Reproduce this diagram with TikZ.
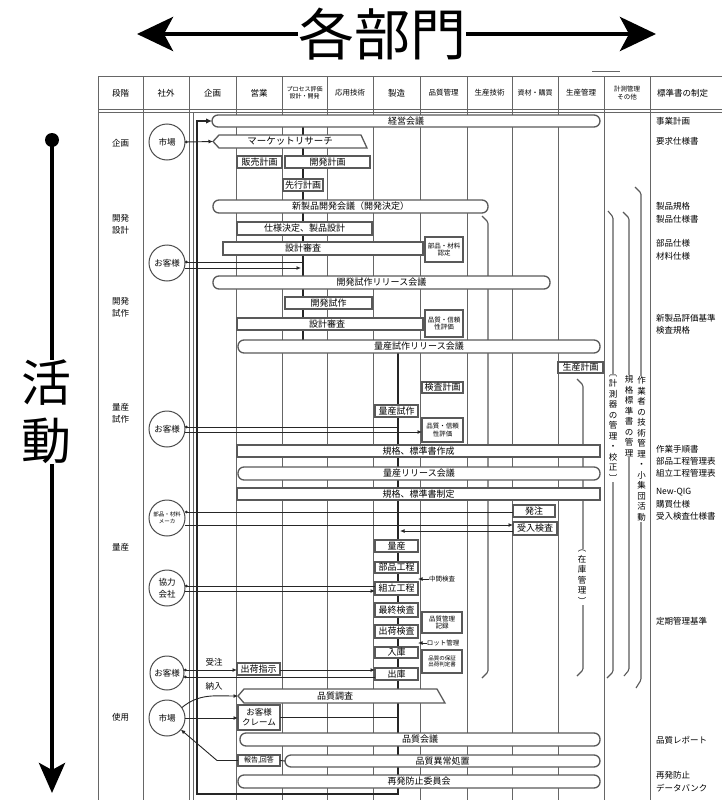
\documentclass[tikz,border=0pt]{standalone}
\usepackage{fontspec}
\setmainfont{Noto Sans CJK JP}
\usetikzlibrary{arrows.meta}
\pgfdeclarelayer{bg}
\pgfsetlayers{bg,main}
\newcommand\bx[7][boxx]{\node[#1,anchor=north west,minimum width={#5pt-#3pt},minimum height={#6pt-#4pt}] (#2) at (#3,#4) {#7};}
\newcommand\fs[2]{\fontsize{#1}{#2}\selectfont}
\begin{document}
\begin{tikzpicture}[x=1pt,y=-1pt,
  every node/.style={inner sep=0pt,outer sep=0pt,align=center,font=\fs{9}{10}},
  gridl/.style={draw=black!60,line width=1pt},
  boxx/.style={draw=black!65,line width=1.3pt,fill=white},
  meet/.style={boxx,rounded corners=6pt},
  circ/.style={circle,draw=black!70,line width=1pt,fill=white,minimum size=36pt,font=\fs{8.5}{12}},
  conn/.style={draw=black!85,line width=0.9pt},
  arr/.style={conn,-{Latex[length=4.5pt,width=4pt]}},
  darr/.style={conn,{Circle[length=2.6pt]}-{Latex[length=4.5pt,width=4pt]}},
  dln/.style={conn,{Circle[length=2.6pt]}-},
  flow/.style={draw=black!85,line width=2.4pt},
  hook/.style={draw=black!65,line width=1.1pt,rounded corners=1.5pt},
  hdr/.style={font=\fs{8.5}{9.5}},
  hdrs/.style={font=\fs{6}{7}},
  stg/.style={font=\fs{8.5}{12}},
  stdt/.style={anchor=west,font=\fs{8.5}{9.5}},
  vtx/.style={fill=white,font=\fs{8.5}{10.5},inner sep=1pt},
  small/.style={font=\fs{6.5}{7.5}},
  tiny/.style={font=\fs{5.5}{6.5}},
  big/.style={font=\fs{56}{60}},
  bigline/.style={draw=black,line width=4.5pt}
]
\useasboundingbox (0,0) rectangle (722,800);
\begin{scope}
\clip (0,0) rectangle (722,800);

% ---- title and activity arrows
\node[big] (title) at (382,34) {各部門};
\coordinate (tl) at (137,34);
\coordinate (tr) at (656,34);
\draw[bigline,-{Stealth[length=36pt,width=34pt,inset=9pt]}] (title.west) -- (tl);
\draw[bigline,-{Stealth[length=36pt,width=34pt,inset=9pt]}] (title.east) -- (tr);
\node[font=\fs{50}{58}] (katsudo) at (46,412) {活\\動};
\node[circle,fill=black,minimum size=14pt] (topdot) at (52,140) {};
\coordinate (vend) at (52,793);
\draw[bigline] (topdot.center) -- (topdot.center |- katsudo.north);
\draw[bigline,-{Stealth[length=30pt,width=26pt,inset=7pt]}] (topdot.center |- katsudo.south) -- (vend);

% ---- header texts
\node[hdr] (h1) at (120.5,93) {段階};
\node[hdr] (h2) at (166,93) {社外};
\node[hdr] (h3) at (212.5,93) {企画};
\node[hdr] (h4) at (259,93) {営業};
\node[hdrs] (h5) at (304.5,93) {プロセス評価\\設計・開発};
\node[font=\fs{7.5}{8.5}] (h6) at (350,93) {応用技術};
\node[hdr] (h7) at (396.5,93) {製造};
\node[font=\fs{7.5}{8.5}] (h8) at (443.5,93) {品質管理};
\node[font=\fs{7.5}{8.5}] (h9) at (489.5,93) {生産技術};
\node[font=\fs{7}{8}] (h10) at (535,93) {資材・購買};
\node[font=\fs{7.5}{8.5}] (h11) at (581,93) {生産管理};
\node[font=\fs{6.5}{8}] (h12) at (627,93) {計測管理\\その他};
\node[stdt] (h13) at (657,93) {標準書の制定};

% ---- stage labels
\node[stg] (st1) at (120.5,143) {企画};
\node[stg] (st2) at (120.5,224) {開発\\設計};
\node[stg] (st3) at (120.5,307) {開発\\試作};
\node[stg] (st4) at (120.5,413) {量産\\試作};
\node[stg] (st5) at (120.5,547) {量産};
\node[stg] (st6) at (120.5,717) {使用};

% ---- outside parties
\node[circ] (c1) at (167,142) {市場};
\node[circ] (c2) at (167,263) {お客様};
\node[circ] (c3) at (167,429) {お客様};
\node[circ,font=\fs{5.5}{7}] (c4) at (167,518) {部品・材料\\メーカ};
\node[circ] (c5) at (167,588) {協力\\会社};
\node[circ,minimum size=34pt] (c6) at (167,673) {お客様};
\node[circ] (c7) at (167,718) {市場};

% ---- activity boxes
\bx[meet]{keiei}{212}{115}{600}{127}{経営会議}
\draw[boxx] (213,141.5) -- (219,135) -- (361,135) -- (367,148) -- (219,148) -- cycle;
\coordinate (mrtip) at (213,141.5);
\node[font=\fs{9.5}{10}] (mr) at (290,141.5) {マーケットリサーチ};
\bx{hanbai}{237}{156}{282}{168}{販売計画}
\bx{kaihatsu}{285}{156}{370}{168}{開発計画}
\bx{senko}{283}{179}{323}{191}{先行計画}
\bx[meet]{shinsei}{213}{200}{488}{213}{新製品開発会議（開発決定）}
\bx{shiyo}{237}{222}{372}{235}{仕様決定、製品設計}
\bx{sekkei1}{223}{242}{423}{255}{}
\node (sekkei1t) at (303,248.5) {設計審査};
\bx[boxx,small]{nintei}{425}{237}{463}{262}{部品・材料\\認定}
\bx[meet]{kshr}{213}{276}{550}{289}{開発試作リリース会議}
\bx{kshisaku}{285}{297}{372}{309}{開発試作}
\bx{sekkei2}{237}{318}{423}{330}{}
\node (sekkei2t) at (327,324) {設計審査};
\bx[boxx,small]{hs1}{425}{310}{463}{337}{品質・信頼\\性評価}
\bx[meet]{rsr}{238}{340}{600}{353}{量産試作リリース会議}
\bx{seisankeikaku}{558}{362}{603}{373}{生産計画}
\bx{kensakeikaku}{422}{382}{463}{393}{検査計画}
\bx{ryoshisaku}{375}{405}{418}{417}{量産試作}
\bx[boxx,small]{hs2}{422}{418}{463}{442}{品質・信頼\\性評価}
\bx{kikaku1}{237}{445}{600}{457}{規格、標準書作成}
\bx[meet]{rr}{238}{467}{600}{480}{量産リリース会議}
\bx{kikaku2}{237}{488}{600}{500}{規格、標準書制定}
\bx{hatchu}{513}{505}{555}{517}{発注}
\bx{ukeire}{513}{522}{557}{535}{受入検査}
\bx{p1}{375}{540}{418}{552}{量産}
\bx{p2}{375}{562}{418}{573}{部品工程}
\bx{p3}{375}{582}{418}{595}{組立工程}
\bx{p4}{375}{603}{418}{617}{最終検査}
\bx{p5}{375}{625}{418}{638}{出荷検査}
\bx{p6}{375}{647}{418}{658}{入庫}
\bx{p7}{375}{668}{418}{680}{出庫}
\bx[boxx,small]{qkiroku}{422}{612}{462}{633}{品質管理\\記録}
\bx[boxx,tiny]{qhosho}{422}{650}{462}{673}{品質の保証\\出荷判定書}
\node[small] (chukan) at (442,579) {中間検査};
\node[small] (lot) at (443,643) {ロット管理};
\bx{shukkashiji}{237}{663}{280}{675}{出荷指示}
\draw[boxx] (238,696) -- (244,689) -- (437,689) -- (445,703) -- (244,703) -- cycle;
\coordinate (hctip) at (238,696);
\node (hc) at (335,696) {品質調査};
\bx[boxx,font=\fs{8.5}{10}]{claim}{238}{705}{280}{730}{お客様\\クレーム}
\bx[meet]{qkaigi}{240}{733}{600}{746}{品質会議}
\bx[boxx,font=\fs{7}{8}]{hokoku}{238}{755}{280}{766}{報告,回答}
\bx[meet]{ijo}{285}{755}{600}{767}{品質異常処置}
\bx[meet]{saihatsu}{238}{775}{600}{788}{再発防止委員会}
\node[hdr] (juchu) at (214,662) {受注};
\node[hdr] (nonyu) at (214,686) {納入};

% ---- vertical management labels
\node[vtx] (v2) at (582,577) {︵\\在\\庫\\管\\理\\︶};
\node[vtx] (v3) at (613,428) {︹\\計\\測\\器\\の\\管\\理\\・\\校\\正\\︺};
\node[vtx] (v4) at (629,416) {規\\格\\標\\準\\書\\の\\管\\理};
\node[vtx] (v5) at (641.5,449) {作\\業\\者\\の\\技\\術\\管\\理\\・\\小\\集\\団\\活\\動};

% ---- standards column
\node[stdt] (sd1) at (656,121) {事業計画};
\node[stdt] (sd2) at (656,141) {要求仕様書};
\node[stdt] (sd3) at (656,206) {製品規格};
\node[stdt] (sd4) at (656,219) {製品仕様書};
\node[stdt] (sd5) at (656,243) {部品仕様};
\node[stdt] (sd6) at (656,256) {材料仕様};
\node[stdt] (sd7) at (656,318) {新製品評価基準};
\node[stdt] (sd8) at (656,330) {検査規格};
\node[stdt] (sd9) at (656,449) {作業手順書};
\node[stdt] (sd10) at (656,461) {部品工程管理表};
\node[stdt] (sd11) at (656,473) {組立工程管理表};
\node[stdt] (sd12) at (656,492) {New-QIG};
\node[stdt] (sd13) at (656,504) {購買仕様};
\node[stdt] (sd14) at (656,516) {受入検査仕様書};
\node[stdt] (sd15) at (656,621) {定期管理基準};
\node[stdt] (sd16) at (656,740) {品質レポート};
\node[stdt] (sd17) at (656,775) {再発防止};
\node[stdt] (sd18) at (656,788) {データバンク};

% ---- helper coordinates
\coordinate (x197) at (197,0);
\coordinate (x303) at (303,0);
\coordinate (x398) at (398,0);
\coordinate (x400) at (400,0);
\coordinate (bl) at (197,794);
\coordinate (br) at (398,794);
\coordinate (k2a) at (303,262);
\coordinate (k2b) at (301,268);

% ---- connectors
\draw[darr] (c1.east) -- (mrtip);
\draw[dln] ([yshift=1pt]c2.east) -- (k2a);
\draw[arr] ([yshift=-5pt]c2.east) -- (k2b);
\draw[dln] ([yshift=2pt]c3.east) -- ([yshift=2pt]c3.east -| x398);
\draw[arr] ([yshift=-3pt]c3.east) -- ([yshift=-3pt]c3.east -| hs2.west);
\draw[dln] ([yshift=6pt]c4.east) -- ([yshift=6pt]c4.east -| hatchu.west);
\draw[arr] ([yshift=-7pt]c4.east) -- ([yshift=-7pt]c4.east -| ukeire.west);
\draw[arr] ([yshift=-2.5pt]ukeire.west) -- ([yshift=-2.5pt]ukeire.west -| x400);
\draw[dln] ([yshift=2pt]c5.east) -- ([yshift=2pt]c5.east -| p3.west);
\draw[arr] ([yshift=-3pt]c5.east) -- ([yshift=-3pt]c5.east -| p3.west);
\draw[darr] ([yshift=3pt]c6.east) -- ([yshift=3pt]c6.east -| shukkashiji.west);
\draw[arr] ([yshift=-1pt]shukkashiji.east) -- ([yshift=-1pt]shukkashiji.east -| p7.west);
\draw[dln] ([yshift=-4pt]c6.east) -- ([yshift=-4pt]c6.east -| p7.west);
\draw[arr] (c7.35) to[out=40,in=180] (hctip);
\draw[arr] (c7.east) -- (c7.east -| claim.west);
\draw[conn] (claim.east) -- (claim.east -| x398);
\draw[arr] (hokoku.west) -- ++(-21,0) -- (c7.-40);
\draw[conn] (hokoku.east) -- (ijo.west);
\draw[arr] (chukan.west) -- (chukan.west -| p3.east);
\draw[arr] (lot.west) -- (lot.west -| p5.east);
\end{scope}

% ---- background: grid, flow lines, brackets
\begin{pgfonlayer}{bg}
\begin{scope}
\clip (0,0) rectangle (722,800);
\foreach \x in {98,143,189,236,282,327,373,420,467,512,558,604,650}
  \draw[gridl] (\x,76) -- (\x,800);
\draw[gridl] (193,112) -- (193,800);
\draw[gridl] (98,76) -- (722,76);
\draw[gridl] (98,109) -- (722,109);
\draw[gridl] (98,112) -- (722,112);
\draw[gridl] (592,71) -- (620,71);
\draw[flow,-{Latex[length=6pt,width=5.5pt]}] (rsr.south -| x398) -- (br) -- (bl) -- (keiei.west -| bl) -- (keiei.west);
\draw[flow] (keiei.south -| x303) -- (rsr.north -| x303);
\draw[hook] (482,216) -- (488,222) -- (488,672) -- (482,678);
\draw[hook] (577,379) -- (583,385) -- (583,670) -- (577,676);
\draw[hook] (608,211) -- (613,217) -- (613,672) -- (607,678);
\draw[hook] (623,212) -- (629,218) -- (629,670) -- (624,676);
\draw[hook] (635,187) -- (641,193) -- (641,680) -- (636,688);
\end{scope}
\end{pgfonlayer}
\end{tikzpicture}
\end{document}
